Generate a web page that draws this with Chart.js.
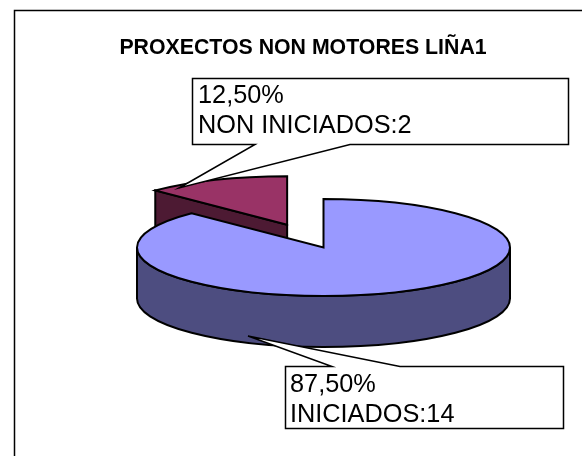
<!DOCTYPE html>
<html>
<head>
<meta charset="utf-8">
<title>PROXECTOS NON MOTORES LIÑA1</title>
<script src="https://cdn.jsdelivr.net/npm/chart.js@4"></script>
<style>
    html, body { margin: 0; padding: 0; background: #fff; }
    canvas { display: block; }
</style>
</head>
<body>
<canvas id="chart" width="582" height="456"></canvas>
<script>
const chartTitle = 'PROXECTOS NON MOTORES LIÑA1';
const categories = ['INICIADOS', 'NON INICIADOS'];
const projectCounts = [14, 2];
const topColors = ['#9999FF', '#993366'];
const sideColors = ['#4D4D80', '#4D1A33'];

// fake 3D: the pie is squashed and pushed down by hand
const pieCenter = { x: 323.5, y: 247.5 };
const pieRadius = 186.5;
const squash = 0.26;
const depth = 51;
const explode = [0, 95];
const FONT = '"Liberation Sans", Arial, sans-serif';

const callouts = [
    { index: 1, box: [192, 78, 568, 144], gap: [255, 350], tip: [179, 188], text: [198, 103, 133] },
    { index: 0, box: [285, 366, 563, 428], gap: [332, 400], tip: [248, 336], text: [290, 392, 422] }
];

function sliceCenter(arc, i) {
    const mid = (arc.startAngle + arc.endAngle) / 2;
    return {
        x: pieCenter.x + Math.cos(mid) * explode[i],
        y: pieCenter.y + Math.sin(mid) * explode[i] * squash
    };
}

function drawSides(ctx, arc, i, c) {
    const r = arc.outerRadius;
    const ry = r * squash;
    ctx.fillStyle = sideColors[i];
    const from = Math.max(arc.startAngle, 0);
    const to = Math.min(arc.endAngle, Math.PI);
    if (to > from) {
        ctx.beginPath();
        ctx.ellipse(c.x, c.y, r, ry, 0, from, to);
        ctx.ellipse(c.x, c.y + depth, r, ry, 0, to, from, true);
        ctx.closePath();
        ctx.fill();
        ctx.stroke();
    }
    if (Math.cos(arc.startAngle) < 0) {
        const ex = c.x + Math.cos(arc.startAngle) * r;
        const ey = c.y + Math.sin(arc.startAngle) * ry;
        ctx.beginPath();
        ctx.moveTo(c.x, c.y);
        ctx.lineTo(ex, ey);
        ctx.lineTo(ex, ey + depth);
        ctx.lineTo(c.x, c.y + depth);
        ctx.closePath();
        ctx.fill();
        ctx.stroke();
    }
}

const pie3d = {
    id: 'pie3d',
    beforeDraw(chart) {
        // only the top and left of the frame fall inside the picture
        const ctx = chart.ctx;
        ctx.save();
        ctx.strokeStyle = '#000';
        ctx.lineWidth = 1.5;
        ctx.beginPath();
        ctx.moveTo(14.5, 456);
        ctx.lineTo(14.5, 10.5);
        ctx.lineTo(582, 10.5);
        ctx.stroke();
        ctx.restore();
    },
    beforeDatasetDraw(chart, args) {
        const ctx = chart.ctx;
        const arcs = args.meta.data;
        ctx.strokeStyle = '#000';
        ctx.lineWidth = 2;
        ctx.lineJoin = 'miter';
        for (let i = arcs.length - 1; i >= 0; i--) {
            const arc = arcs[i];
            const c = sliceCenter(arc, i);
            drawSides(ctx, arc, i, c);

            ctx.save();
            ctx.translate(c.x, c.y);
            ctx.scale(1, squash);
            ctx.translate(-arc.x, -arc.y);
            arc.draw(ctx);
            ctx.restore();

            // outline built squashed but stroked flat so the line stays even
            ctx.save();
            ctx.translate(c.x, c.y);
            ctx.scale(1, squash);
            ctx.beginPath();
            ctx.moveTo(0, 0);
            ctx.arc(0, 0, arc.outerRadius, arc.startAngle, arc.endAngle);
            ctx.closePath();
            ctx.restore();
            ctx.stroke();
        }
        return false;
    },
    afterDraw(chart) {
        const ctx = chart.ctx;
        const total = projectCounts.reduce((a, b) => a + b, 0);
        ctx.save();
        ctx.strokeStyle = '#000';
        ctx.lineWidth = 1.5;
        callouts.forEach(c => {
            const [l, t, r, b] = c.box;
            const tipUp = c.tip[1] > b;
            const edge = tipUp ? b : t;
            ctx.beginPath();
            ctx.moveTo(l + .5, t + .5);
            if (!tipUp) {
                ctx.lineTo(c.gap[0], edge + .5);
                ctx.lineTo(c.tip[0], c.tip[1]);
                ctx.lineTo(c.gap[1], edge + .5);
            }
            ctx.lineTo(r + .5, t + .5);
            ctx.lineTo(r + .5, b + .5);
            if (tipUp) {
                ctx.lineTo(c.gap[1], edge + .5);
                ctx.lineTo(c.tip[0], c.tip[1]);
                ctx.lineTo(c.gap[0], edge + .5);
            }
            ctx.lineTo(l + .5, b + .5);
            ctx.closePath();
            ctx.fillStyle = '#fff';
            ctx.fill();
            ctx.stroke();

            const pct = (projectCounts[c.index] / total * 100).toFixed(2).replace('.', ',') + '%';
            ctx.fillStyle = '#000';
            ctx.font = '25.3px ' + FONT;
            ctx.textAlign = 'left';
            ctx.textBaseline = 'alphabetic';
            ctx.fillText(pct, c.text[0], c.text[1]);
            ctx.fillText(categories[c.index] + ':' + projectCounts[c.index], c.text[0], c.text[2]);
        });
        ctx.restore();
    }
};

new Chart(document.getElementById('chart'), {
    type: 'pie',
    data: {
        labels: categories,
        datasets: [{
            data: projectCounts,
            backgroundColor: topColors,
            borderWidth: 0
        }]
    },
    options: {
        responsive: false,
        animation: false,
        radius: pieRadius,
        layout: { padding: { left: 24 } },
        plugins: {
            legend: { display: false },
            tooltip: { enabled: false },
            title: {
                display: true,
                text: chartTitle,
                color: '#000',
                font: { family: FONT, size: 21.3, weight: 'bold' },
                padding: { top: 35, bottom: 0 }
            }
        }
    },
    plugins: [pie3d]
});
</script>
</body>
</html>
